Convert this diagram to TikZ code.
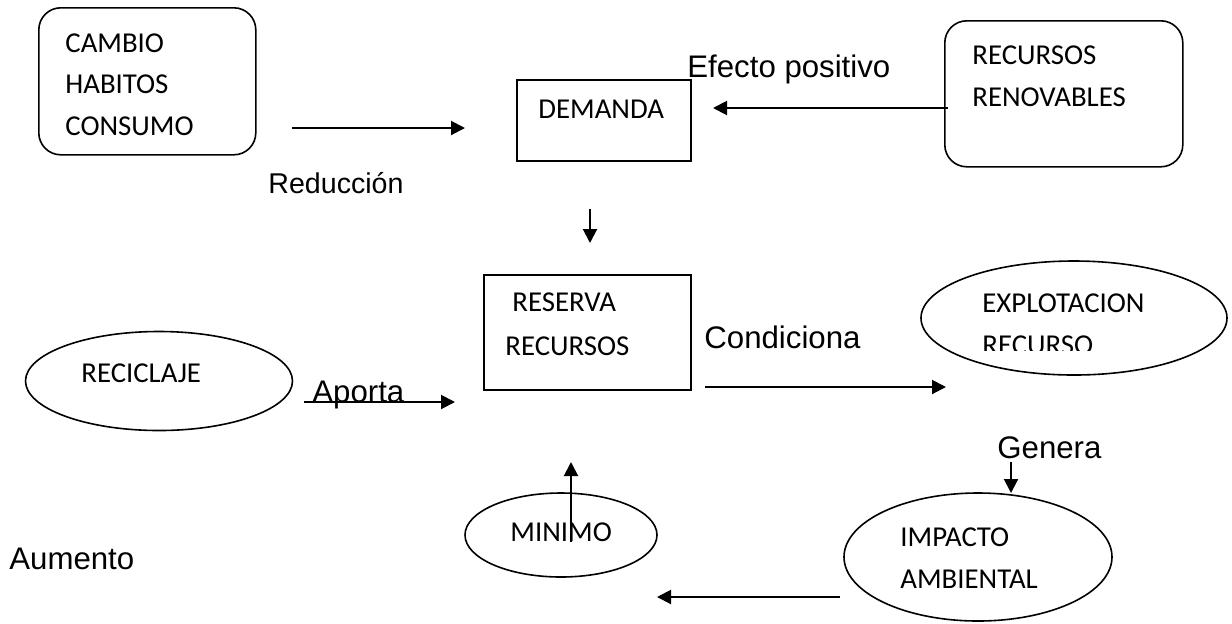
\documentclass[tikz,border=0pt]{standalone}
\usepackage{fontspec}
\setmainfont{Liberation Sans}
\newfontfamily\boxfont{Carlito}
\usetikzlibrary{arrows.meta,shapes.geometric}
\begin{document}
\begin{tikzpicture}[x=0.5pt,y=-0.5pt,>={Triangle[length=7pt,width=7pt]},
    box/.style={draw,line width=0.8pt,inner sep=0pt,anchor=north west},
    oval/.style={draw,ellipse,line width=0.8pt,inner sep=0pt},
    txt/.style={anchor=base west,inner sep=0pt,align=left,font=\boxfont\fontsize{14.4}{20.75}\selectfont},
    lbl/.style={anchor=base west,inner sep=0pt,font=\fontsize{15.6}{18}\selectfont},
    flecha/.style={->,line width=1pt}]
    \useasboundingbox (0,0) rectangle (1232,623);
    % cajas y elipses
    \node[box,rounded corners=11pt,minimum width=108.5pt,minimum height=73.5pt] (cambio) at (38,7) {};
    \node[box,minimum width=87pt,minimum height=40.5pt] (demanda) at (516,79) {};
    \node[box,rounded corners=11pt,minimum width=119pt,minimum height=73pt] (renov) at (944,20) {};
    \node[box,minimum width=103.5pt,minimum height=57.5pt] (reserva) at (483,274) {};
    \node[oval,minimum width=153pt,minimum height=57pt] (explot) at (1074,318) {};
    \node[oval,minimum width=133.5pt,minimum height=49.5pt] (recicla) at (159,381) {};
    \node[oval,minimum width=96pt,minimum height=42pt] (minimo) at (561,535) {};
    \node[oval,minimum width=134pt,minimum height=64pt] (impacto) at (978,557) {};
    % textos (base = ultima linea)
    \node[txt] (cambioT) at (65,135) {CAMBIO\\HABITOS\\CONSUMO};
    \node[txt] (demandaT) at (538,118) {DEMANDA};
    \node[txt] (renovT) at (972,106) {RECURSOS\\RENOVABLES};
    \node[txt] (reservaT) at (505,355) {\hspace*{3.5pt}RESERVA\\[1pt]RECURSOS};
    \begin{scope}
        \clip (900,250) rectangle (1230,350);
        \node[txt] (explotT) at (982,354) {EXPLOTACION\\RECURSO};
    \end{scope}
    \node[txt] (reciclaT) at (81,382) {RECICLAJE};
    \node[txt] (minimoT) at (510,541) {MINIMO};
    \node[txt] (impactoT) at (900,588) {IMPACTO\\AMBIENTAL};
    % etiquetas
    \node[lbl,font=\fontsize{14.3}{17}\selectfont] (reduc) at (268,193) {Reducción};
    \node[lbl] (efecto) at (687,77) {Efecto positivo};
    \node[lbl] (condic) at (704,348) {Condiciona};
    \node[lbl] (aporta) at (312,402) {Aporta};
    \node[lbl] (genera) at (997,458) {Genera};
    \node[lbl] (aumento) at (9,569) {Aumento};
    % flechas
    \coordinate (a1) at (292,128); \coordinate (b1) at (465,128);
    \coordinate (a2) at (948,108); \coordinate (b2) at (713,108);
    \coordinate (a3) at (590,209); \coordinate (b3) at (590,243);
    \coordinate (a4) at (705,387); \coordinate (b4) at (946,387);
    \coordinate (a5) at (304,402); \coordinate (b5) at (455,402);
    \coordinate (a6) at (571,542); \coordinate (b6) at (571,462);
    \coordinate (a7) at (1011,462); \coordinate (b7) at (1011,493);
    \coordinate (a8) at (840,597); \coordinate (b8) at (657,597);
    \foreach \i in {1,...,8}
        \draw[flecha] (a\i) -- (b\i);
\end{tikzpicture}
\end{document}
